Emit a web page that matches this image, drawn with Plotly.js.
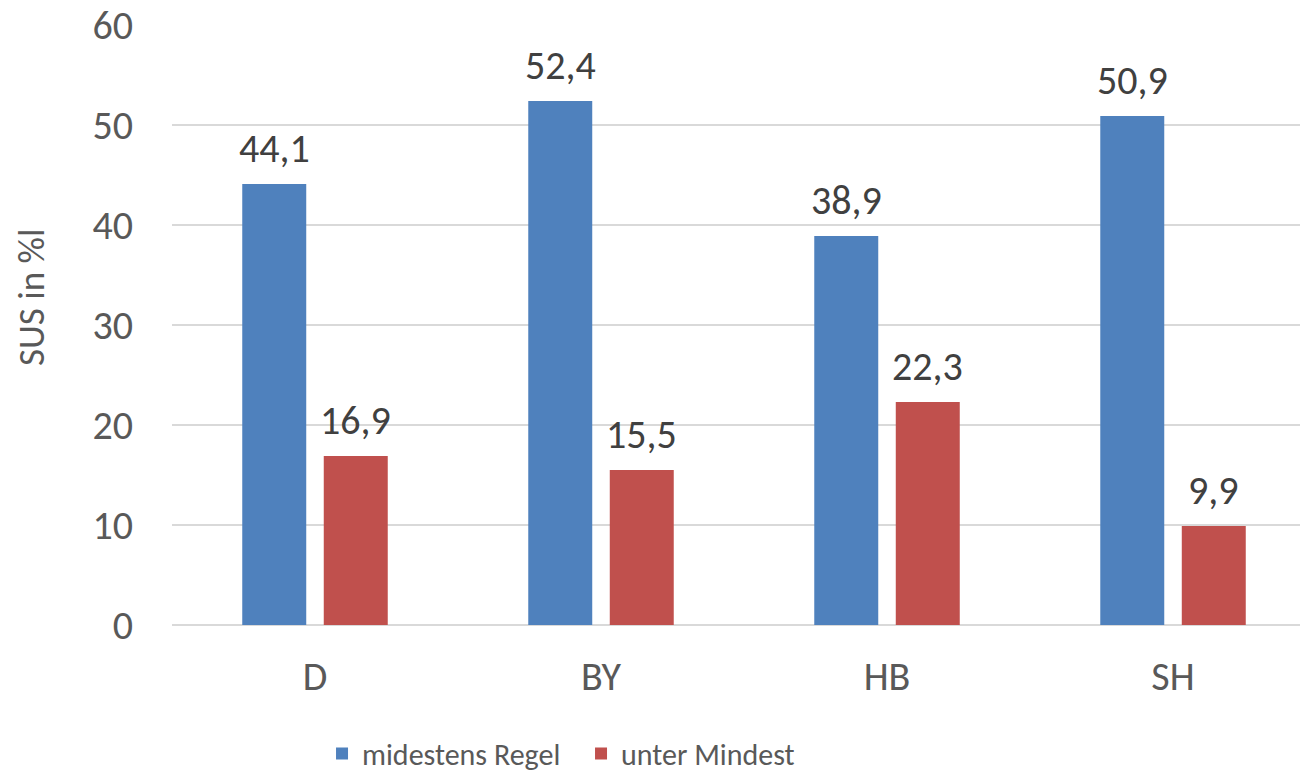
<!DOCTYPE html>
<html>
<head>
<meta charset="utf-8">
<script src="https://cdn.plot.ly/plotly-3.0.1.min.js"></script>
<style>html,body{margin:0;padding:0;background:#fff;}#chart{width:1300px;height:772px;}</style>
</head>
<body>
<div id="chart"></div>
<script>
const categories = ["D", "BY", "HB", "SH"];
const seriesNames = ["midestens Regel", "unter Mindest"];
const regelValues = [44.1, 52.4, 38.9, 50.9];
const mindestValues = [16.9, 15.5, 22.3, 9.9];
const yTicks = [0, 10, 20, 30, 40, 50, 60];
const yTitle = "SUS in %l";

const FONT = "Carlito, 'Liberation Sans Narrow', 'Open Sans', sans-serif";
const colors = ["#4F81BD", "#C0504D"];

const fmt = v => v.toFixed(1).replace('.', ',');

const traces = [regelValues, mindestValues].map((vals, i) => ({
  type: 'bar',
  name: seriesNames[i],
  x: categories,
  y: vals,
  marker: {color: colors[i], line: {width: 0}},
  hoverinfo: 'skip'
}));

const annotations = [];
const offsets = [-0.1426, 0.1426];
[regelValues, mindestValues].forEach((vals, i) => {
  vals.forEach((v, j) => {
    annotations.push({
      x: j + offsets[i], y: v, xref: 'x', yref: 'y',
      text: fmt(v), showarrow: false, yanchor: 'bottom', yshift: 9,
      font: {family: FONT, size: 40, color: '#404040'}
    });
  });
});

// y-axis title (placed as rotated text, as in the reference it sits above the axis middle)
annotations.push({
  text: yTitle, xref: 'paper', yref: 'paper', x: -0.1245, xanchor: 'center',
  y: 0.546, yanchor: 'middle', textangle: -90, showarrow: false,
  font: {family: FONT, size: 37, color: '#595959'}
});

const layout = {
  width: 1300, height: 772,
  margin: {l: 172, r: 0, t: 25, b: 147, autoexpand: false},
  paper_bgcolor: '#fff', plot_bgcolor: '#fff',
  separators: ',.',
  barmode: 'group',
  bargap: 0.43,
  bargroupgap: 0.215,
  showlegend: true,
  legend: {
    orientation: 'h', x: 0.133, xanchor: 'left', y: -0.214, yanchor: 'middle',
    font: {family: FONT, size: 30, color: '#595959'},
    itemwidth: 30, tracegroupgap: 0, entrywidth: 214
  },
  xaxis: {
    type: 'category', categoryarray: categories,
    range: [-0.5, 3.444],
    showgrid: false, zeroline: false, showline: false, ticks: '',
    tickfont: {family: FONT, size: 40, color: '#595959'},
    ticklabelstandoff: 24
  },
  yaxis: {
    range: [0, 60], tickvals: yTicks, ticktext: yTicks.map(String),
    showgrid: true, gridcolor: '#d9d9d9', gridwidth: 1.5,
    zeroline: true, zerolinecolor: '#d9d9d9', zerolinewidth: 1.5,
    showline: false, ticks: '',
    tickfont: {family: FONT, size: 40, color: '#595959'},
    ticklabelstandoff: 38
  },
  annotations: annotations
};

Plotly.newPlot('chart', traces, layout, {displayModeBar: false, staticPlot: true});
</script>
</body>
</html>
